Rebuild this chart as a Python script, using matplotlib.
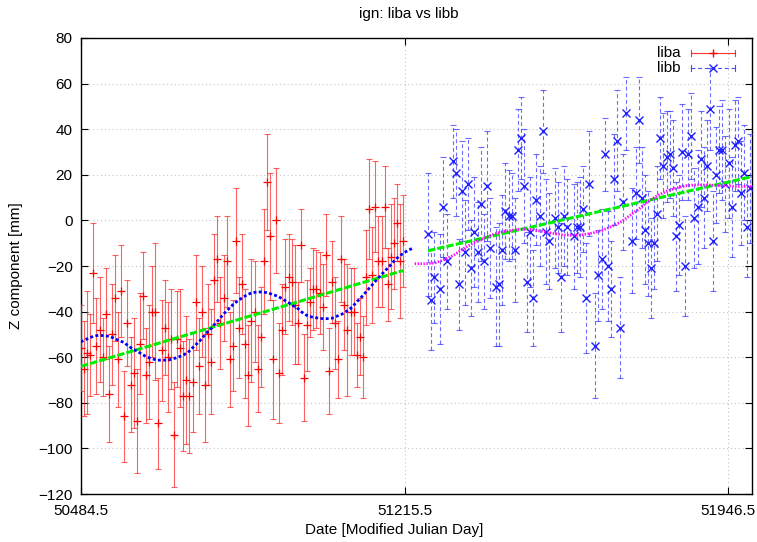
import matplotlib
matplotlib.use("Agg")
import matplotlib.pyplot as plt
from matplotlib.lines import Line2D

# ---------------------------------------------------------------- data
liba_mjd = [
    50484.5, 50491.5, 50498.5, 50505.5, 50512.5, 50519.5, 50526.5, 50533.5, 50540.5, 50547.5,
    50554.5, 50561.5, 50568.5, 50575.5, 50582.5, 50589.5, 50596.5, 50603.5, 50610.5, 50617.5,
    50624.5, 50631.5, 50638.5, 50645.5, 50652.5, 50659.5, 50666.5, 50673.5, 50680.5, 50687.5,
    50694.5, 50701.5, 50708.5, 50715.5, 50722.5, 50729.5, 50736.5, 50743.5, 50750.5, 50757.5,
    50764.5, 50771.5, 50778.5, 50785.5, 50792.5, 50799.5, 50806.5, 50813.5, 50820.5, 50827.5,
    50834.5, 50841.5, 50848.5, 50855.5, 50862.5, 50869.5, 50876.5, 50883.5, 50890.5, 50897.5,
    50904.5, 50911.5, 50918.5, 50925.5, 50932.5, 50939.5, 50946.5, 50953.5, 50960.5, 50967.5,
    50974.5, 50981.5, 50988.5, 50995.5, 51002.5, 51009.5, 51016.5, 51023.5, 51030.5, 51037.5,
    51044.5, 51051.5, 51058.5, 51065.5, 51072.5, 51079.5, 51086.5, 51093.5, 51100.5, 51107.5,
    51114.5, 51121.5, 51128.5, 51135.5, 51142.5, 51149.5, 51156.5, 51163.5, 51170.5, 51177.5,
    51184.5, 51191.5, 51198.5, 51205.5, 51212.5,
]
liba_z = [
    -56, -65, -58, -59, -23, -55, -48, -60, -41, -76,
    -50, -34, -61, -31, -86, -45, -72, -67, -88, -54,
    -33, -68, -62, -40, -40, -89, -57, -47, -60, -52,
    -94, -52, -56, -77, -70, -77, -71, -36, -64, -40,
    -72, -50, -62, -26, -17, -45, -34, -18, -61, -55,
    -9, -47, -28, -54, -68, -44, -40, -65, -51, -18,
    17, -7, -61, 0, -67, -48, -29, -25, -27, -37,
    -45, -11, -69, -46, -36, -30, -30, -32, -38, -15,
    -66, -27, -45, -61, -17, -37, -48, -40, -40, -59,
    -51, -60, -25, 5, -24, 6, -18, -18, 6, -28,
    -16, -10, -1, -18, -9,
]
liba_err = [
    19, 21, 27, 18, 22, 21, 23, 17, 20, 21,
    22, 19, 21, 20, 20, 19, 21, 24, 23, 22,
    19, 21, 25, 20, 30, 20, 22, 21, 24, 22,
    23, 21, 26, 24, 28, 25, 22, 21, 21, 20,
    25, 22, 23, 20, 19, 20, 19, 20, 21, 20,
    23, 22, 22, 24, 22, 27, 22, 19, 22, 23,
    21, 28, 26, 23, 22, 20, 21, 19, 19, 26,
    18, 16, 19, 20, 15, 18, 17, 18, 19, 18,
    19, 18, 20, 17, 19, 20, 29, 19, 19, 14,
    17, 18, 21, 22, 21, 20, 20, 20, 18, 16,
    23, 20, 17, 25, 20,
]

libb_mjd = [
    51268.5, 51275.5, 51282.5, 51296.5, 51303.5, 51310.5, 51324.5, 51331.5, 51338.5, 51345.5,
    51352.5, 51359.5, 51366.5, 51373.5, 51380.5, 51387.5, 51394.5, 51401.5, 51408.5, 51422.5,
    51429.5, 51436.5, 51443.5, 51450.5, 51457.5, 51464.5, 51471.5, 51478.5, 51485.5, 51492.5,
    51499.5, 51506.5, 51513.5, 51520.5, 51527.5, 51534.5, 51541.5, 51555.5, 51562.5, 51569.5,
    51576.5, 51583.5, 51597.5, 51604.5, 51611.5, 51618.5, 51625.5, 51632.5, 51646.5, 51653.5,
    51660.5, 51667.5, 51674.5, 51681.5, 51688.5, 51695.5, 51702.5, 51709.5, 51716.5, 51730.5,
    51737.5, 51744.5, 51751.5, 51758.5, 51765.5, 51772.5, 51779.5, 51786.5, 51793.5, 51800.5,
    51807.5, 51814.5, 51821.5, 51828.5, 51835.5, 51842.5, 51849.5, 51856.5, 51863.5, 51870.5,
    51877.5, 51884.5, 51891.5, 51898.5, 51905.5, 51912.5, 51919.5, 51926.5, 51933.5, 51940.5,
    51947.5, 51954.5, 51961.5, 51968.5, 51975.5, 51982.5, 51989.5, 51996.5,
]
libb_z = [
    -6, -35, -25, -30, 6, -18, 26, 21, -28, 13,
    -14, 16, -21, -5, -14, 7, -18, 15, -12, -29,
    -28, -13, 4, 2, 2, -13, 31, 36, 15, -27,
    -5, -34, 9, 2, 39, -5, -9, 1, -3, -25,
    2, -3, -7, -3, -3, 5, -34, 16, -55, -24,
    -17, 29, -20, -30, 18, 35, -47, 8, 47, -9,
    12, 44, 10, -4, -10, -21, -10, 3, 36, 24,
    28, 29, 23, -7, -2, 30, -20, 29, 37, 1,
    6, 27, 10, 24, 49, -9, 20, 31, 31, 16,
    25, 6, 33, 35, 12, 21, -3, 14,
]
libb_err = [
    27, 22, 20, 24, 22, 21, 16, 19, 20, 22,
    23, 20, 21, 24, 22, 25, 21, 24, 22, 26,
    27, 24, 21, 20, 19, 23, 18, 18, 25, 22,
    24, 21, 20, 22, 18, 23, 21, 22, 20, 24,
    22, 21, 23, 20, 22, 19, 24, 23, 23, 20,
    22, 16, 24, 21, 20, 22, 22, 21, 16, 23,
    20, 19, 22, 24, 23, 22, 20, 21, 18, 23,
    20, 19, 21, 24, 22, 21, 22, 20, 19, 22,
    25, 21, 22, 20, 18, 22, 21, 19, 22, 21,
    24, 22, 20, 19, 23, 21, 22, 24,
]

# linear trends
liba_fit_mjd = [50484.5, 51212.5]
liba_fit_z = [-64.0, -22.0]
libb_fit_mjd = [51268.5, 52000.5]
libb_fit_z = [-13.3, 19.2]

# smoothed signals
liba_smooth_mjd = [
    50486.7, 50498, 50509, 50521, 50533, 50545, 50557.5, 50568.8, 50580, 50590.6,
    50601, 50611.7, 50623, 50634, 50645, 50657, 50669, 50681, 50693, 50705,
    50716.4, 50727.7, 50735.3, 50745, 50754, 50761.7, 50770, 50779, 50786.5, 50795.6,
    50803, 50811.4, 50820.4, 50829.5, 50839.3, 50849, 50859.6, 50871.6, 50883, 50895.7,
    50907, 50919, 50929.6, 50941.7, 50952, 50963.5, 50973.3, 50983.8, 50995.9, 51006.4,
    51018.5, 51031.3, 51042.6, 51053.9, 51065.2, 51076.5, 51087.8, 51097.5, 51106.6, 51114,
    51123, 51131.4, 51139, 51148, 51155.5, 51164.6, 51172, 51180.4, 51188.7, 51197.7,
    51206.7, 51215.8, 51225.5, 51238.4,
]
liba_smooth_z = [
    -53, -52, -51.1, -50.5, -50.5, -50.8, -51.5, -52.6, -53.4, -54.9,
    -56.4, -57.4, -58.8, -60, -60.7, -61.3, -61.3, -61.3, -60.7, -59.9,
    -59, -57.6, -56.1, -54.3, -52.6, -50.8, -49, -47.4, -45.5, -43.6,
    -41.9, -40.1, -38.4, -36.6, -35.2, -33.9, -32.6, -31.7, -31.4, -31.4,
    -31.8, -32.6, -33.3, -34.7, -35.9, -37.4, -38.4, -40.3, -41.8, -42.4,
    -42.8, -43.1, -43.1, -42.8, -41.8, -40.9, -39.4, -38, -35.9, -34.5,
    -32.6, -30.7, -29, -27.1, -25.4, -23.5, -22, -20.3, -18.5, -16.7,
    -15.2, -14, -13, -11.7,
]
libb_smooth_mjd = [
    51238.4, 51261, 51283.5, 51306, 51328.7, 51351, 51374, 51396.5, 51419, 51441.7,
    51464, 51483, 51503.5, 51526, 51548.7, 51571, 51594, 51616.4, 51639, 51661.6,
    51684, 51706.8, 51729.4, 51743, 51761, 51783.7, 51806, 51829, 51851.5, 51874,
    51904, 51934, 51964.4, 52000.5,
]
libb_smooth_z = [
    -19, -19, -18.7, -17.2, -15, -12.1, -9.6, -7.7, -5.9, -4.8,
    -4.1, -3.8, -4.1, -4.8, -5.6, -6.3, -6.6, -6.3, -5.6, -4.4,
    -2.6, -0.4, 2.9, 4.6, 7.6, 10.5, 12.7, 14.2, 15.2, 15.6,
    15.5, 15.2, 14.9, 14.9,
]

x_ticks = [50484.5, 51215.5, 51946.5]
y_ticks = [-120, -100, -80, -60, -40, -20, 0, 20, 40, 60, 80]

# ---------------------------------------------------------------- style
FONT = ["Liberation Sans", "DejaVu Sans"]
plt.rcParams["font.family"] = FONT
plt.rcParams["font.size"] = 11

W, H = 757, 542
fig = plt.figure(figsize=(W / 100, H / 100), dpi=100)
L, R, T, B = 81, 752, 38, 494
ax = fig.add_axes([L / W, 1 - B / H, (R - L) / W, (B - T) / H])

ax.set_xlim(50484.5, 52000.5)
ax.set_ylim(-120, 80)

# grid
ax.set_axisbelow(True)
ax.grid(True, color="#c4c4c4", linestyle=(0, (1, 2.5)), linewidth=0.8)

# liba: weekly solutions with error bars
ax.errorbar(liba_mjd, liba_z, yerr=liba_err, fmt="none",
            ecolor="#ff2020", elinewidth=0.8, capsize=1.9,
            capthick=0.8, alpha=0.7, zorder=3)
ax.plot(liba_mjd, liba_z, linestyle="none", marker="+", color="#ff0000",
        markersize=5.5, markeredgewidth=0.9, zorder=4)

# libb: dashed error bars with x markers
eb_b = ax.errorbar(libb_mjd, libb_z, yerr=libb_err, fmt="none",
                   ecolor="#3a3aff", elinewidth=0.8, capsize=2.2,
                   capthick=0.8, alpha=0.75, zorder=3)
for lc in eb_b[2]:
    lc.set_linestyle((0, (3.5, 2.5)))
ax.plot(libb_mjd, libb_z, linestyle="none", marker="x", color="#2020ff",
        markersize=6.2, markeredgewidth=1.0, zorder=4)

# linear trends
ax.plot(liba_fit_mjd, liba_fit_z, color="#00ee00", linewidth=2.2,
        linestyle=(0, (2.4, 0.7)), zorder=5)
ax.plot(libb_fit_mjd, libb_fit_z, color="#00ee00", linewidth=2.2,
        linestyle=(0, (2.4, 0.7)), zorder=5)

# smoothed signals
ax.plot(liba_smooth_mjd, liba_smooth_z, color="#0000ff", linewidth=2.0,
        linestyle=(0, (0.05, 1.85)), dash_capstyle="projecting", zorder=6)
ax.plot(libb_smooth_mjd, libb_smooth_z, color="#ff00ff", linewidth=2.0,
        linestyle=(0, (0.5, 0.55)), zorder=6)

# axes, ticks
for s in ax.spines.values():
    s.set_linewidth(1.0)
    s.set_color("black")
ax.set_xticks(x_ticks)
ax.set_xticklabels([f"{t:.1f}" for t in x_ticks])
ax.set_yticks(y_ticks)
ax.tick_params(direction="in", length=5, width=0.8, top=True, right=True,
               labelsize=11, pad=6)
ax.tick_params(axis="x", pad=7)

# title and axis labels
fig.text(409 / W, 1 - 14 / H, "ign: liba vs libb", ha="center", va="center",
         fontsize=11)
fig.text(394 / W, 1 - 530 / H, "Date [Modified Julian Day]", ha="center",
         va="center", fontsize=11)
fig.text(16 / W, 1 - 266 / H, "Z component [mm]", ha="center", va="center",
         rotation=90, fontsize=11)

# key in the upper right corner
def px_to_axes(px, py):
    return (px - L) / (R - L), (B - py) / (B - T)

for label, py, col, mk, ls, ms in [("liba", 52.7, "#ff0000", "+", "-", 5.5),
                                    ("libb", 68.3, "#2020ff", "x", (0, (3.5, 2.5)), 6.2)]:
    tx, ty = px_to_axes(681, py)
    ax.text(tx, ty, label, transform=ax.transAxes, ha="right", va="center",
            fontsize=11)
    x0, y0 = px_to_axes(691, py)
    x1, _ = px_to_axes(735, py)
    xm, _ = px_to_axes(713, py)
    _, yt = px_to_axes(0, py - 3)
    dy = yt - y0
    ax.add_line(Line2D([x0, x1], [y0, y0], transform=ax.transAxes, color=col,
                       linewidth=0.8, linestyle=ls, alpha=0.8, clip_on=False))
    for xe in (x0, x1):
        ax.add_line(Line2D([xe, xe], [y0 - dy, y0 + dy], transform=ax.transAxes,
                           color=col, linewidth=0.8, alpha=0.8, clip_on=False))
    ax.add_line(Line2D([xm], [y0], transform=ax.transAxes, color=col,
                       marker=mk, markersize=ms, markeredgewidth=1.0,
                       linestyle="none", clip_on=False))

fig.savefig("out.png", dpi=100)
